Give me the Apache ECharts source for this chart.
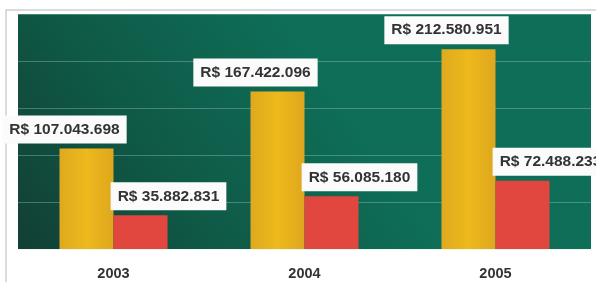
<!DOCTYPE html>
<html>
<head>
<meta charset="utf-8">
<script src="https://cdn.jsdelivr.net/npm/echarts@6/dist/echarts.min.js"></script>
<style>
  html, body { margin: 0; padding: 0; background: #fff; }
  #chart { width: 596px; height: 282px; }
</style>
</head>
<body>
<div id="chart"></div>
<script>
const years = ['2003', '2004', '2005'];
const receita = [107043698, 167422096, 212580951];
const lucro = [35882831, 56085180, 72488233];

function brl(v) {
  return 'R$ ' + String(v).replace(/\B(?=(\d{3})+(?!\d))/g, '.');
}

const labelStyle = {
  show: true,
  position: 'top',
  distance: 5,
  formatter: (p) => brl(p.value),
  backgroundColor: '#fbfbfb',
  color: '#333',
  fontFamily: 'Liberation Sans, Arial, sans-serif',
  fontWeight: 'bold',
  fontSize: 15.5,
  lineHeight: 16,
  padding: [6, 7]
};

const chart = echarts.init(document.getElementById('chart'), null, { renderer: 'canvas' });
chart.setOption({
  animation: false,
  backgroundColor: '#ffffff',
  graphic: [{
    type: 'polyline',
    silent: true,
    shape: { points: [[6, 282], [6, 10], [596, 10]] },
    style: { stroke: '#cfcfcf', lineWidth: 1.5, fill: null }
  }],
  grid: {
    left: 18, top: 14, right: 5, bottom: 33,
    show: true,
    borderWidth: 0,
    backgroundColor: new echarts.graphic.LinearGradient(0, 1, 0.5, 0.15, [
      { offset: 0, color: '#123f33' },
      { offset: 0.45, color: '#0f5846' },
      { offset: 1, color: '#0e6e57' }
    ])
  },
  xAxis: {
    type: 'category',
    data: years,
    axisLine: { show: false },
    axisTick: { show: false },
    axisLabel: {
      margin: 17,
      color: '#333',
      fontFamily: 'Liberation Sans, Arial, sans-serif',
      fontWeight: 'bold',
      fontSize: 14.5
    }
  },
  yAxis: {
    type: 'value',
    min: 0,
    max: 250000000,
    interval: 50000000,
    axisLabel: { show: false },
    axisLine: { show: false },
    axisTick: { show: false },
    splitLine: { lineStyle: { color: 'rgba(200,235,225,0.3)', width: 1 } }
  },
  series: [
    {
      name: 'Receita',
      type: 'bar',
      data: receita,
      barWidth: 54,
      barGap: '0%',
      itemStyle: {
        color: new echarts.graphic.LinearGradient(0, 0, 1, 0, [
          { offset: 0, color: '#dfa91f' },
          { offset: 0.5, color: '#edb91b' },
          { offset: 1, color: '#dea71e' }
        ])
      },
      label: Object.assign({}, labelStyle, { offset: [-22, 0] })
    },
    {
      name: 'Lucro',
      type: 'bar',
      data: lucro,
      barWidth: 54,
      itemStyle: { color: '#e1463f' },
      label: Object.assign({}, labelStyle, { offset: [28, 0] })
    }
  ]
});
</script>
</body>
</html>
